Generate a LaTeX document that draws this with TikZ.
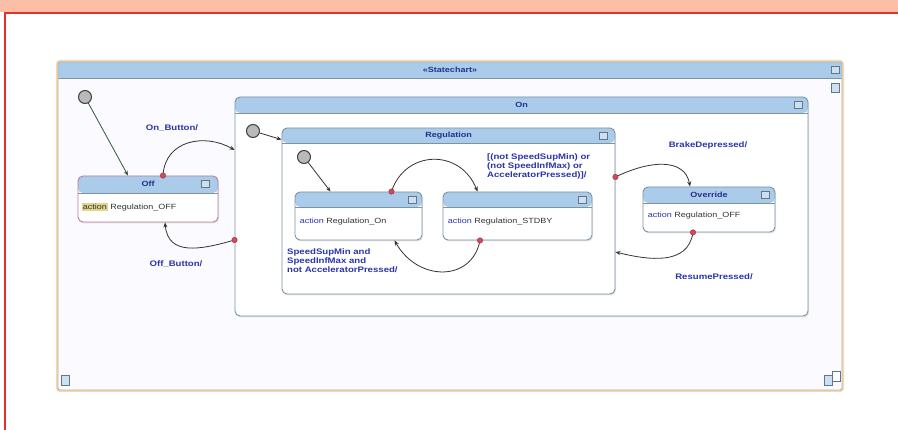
\documentclass[tikz,border=0pt]{standalone}
\usepackage{fontspec}
\setmainfont{Liberation Sans}[FakeStretch=1.2]
\usetikzlibrary{arrows.meta,shadows}

\definecolor{bandsalmon}{HTML}{FBBFA8}
\definecolor{pagered}{HTML}{E8302A}
\definecolor{headfill}{HTML}{AACCEA}
\definecolor{stateline}{HTML}{7C93A4}
\definecolor{offline}{HTML}{B88098}
\definecolor{glow}{HTML}{F4D9AE}
\definecolor{labelblue}{HTML}{2A35A8}
\definecolor{titleblue}{HTML}{23308A}
\definecolor{dotred}{HTML}{D2495A}
\definecolor{khaki}{HTML}{E2D68E}
\definecolor{initgreen}{HTML}{2F5A3A}

\begin{document}
\begin{tikzpicture}[x=1pt,y=-1pt]
\tikzset{
  state/.style={draw=stateline, line width=0.9pt, rounded corners=5pt, fill=white, inner sep=0pt,
    drop shadow={opacity=0.2, shadow xshift=1pt, shadow yshift=-1.5pt},
    path picture={
      \fill[headfill] (path picture bounding box.north west) rectangle ([yshift=-#1]path picture bounding box.north east);
      \draw[stateline, line width=0.5pt] ([yshift=-#1]path picture bounding box.north west) -- ([yshift=-#1]path picture bounding box.north east);
    }},
  state/.default=15,
  title/.style={font=\fontsize{7.5}{8}\selectfont\bfseries, text=titleblue, inner sep=0pt},
  body/.style={font=\fontsize{7.5}{9}\selectfont, text=black!80, inner sep=0pt, anchor=west},
  icon/.style={draw=stateline!80!black, fill=headfill!60, line width=0.5pt, minimum width=8pt, minimum height=7pt, inner sep=0pt},
  init/.style={circle, draw=black!75, fill=gray!55, line width=1pt, minimum size=13pt, inner sep=0pt},
  trans/.style={draw=black!80, line width=0.8pt, -{Stealth[length=5pt,width=4pt]}},
  srcdot/.style={circle, fill=dotred, draw=dotred!70!black, line width=0.4pt, inner sep=0pt, minimum size=5.5pt},
  guard/.style={font=\fontsize{8}{9}\selectfont\bfseries, text=labelblue, inner sep=0pt, align=left}
}
\useasboundingbox (0,0) rectangle (898,430);

% page
\fill[white] (0,0) rectangle (898,430);
\fill[bandsalmon] (0,0) rectangle (898,12);
\draw[pagered, line width=1.5pt] (898,13) -- (5,13) -- (5,430);

% statechart frame
\node[state=16, rounded corners=2pt, draw=gray!60, fill=blue!2, preaction={draw=glow, line width=4pt},
      minimum width=784pt, minimum height=328pt] (chart) at (450,226) {};
\node[title] (chartT) at ([yshift=-8]chart.north) {<<Statechart>>};
\node[icon] (chartI) at ([xshift=-7,yshift=-8]chart.north east) {};
\node[icon, minimum height=9pt] (chartS) at ([xshift=-7,yshift=-26]chart.north east) {};
\node[icon, minimum height=10pt] (chartBL) at ([xshift=8,yshift=10]chart.south west) {};
\node[icon, minimum height=10pt] (chartBR) at ([xshift=-14,yshift=10]chart.south east) {};
\node[icon, fill=white, minimum height=10pt] (chartBC) at ([xshift=-6,yshift=14]chart.south east) {};

% states
\node[state=17, draw=offline, minimum width=140pt, minimum height=46pt] (off) at (148,199) {};
\node[title] (offT) at ([yshift=-8.5]off.north) {Off};
\node[icon] (offI) at ([xshift=-13,yshift=-8.5]off.north east) {};
\node[body] (offB) at ([xshift=4,yshift=-8]off.west) {{\setlength\fboxsep{1pt}\colorbox{khaki}{action}} Regulation\_OFF};

\node[state=16, minimum width=573pt, minimum height=219pt] (on) at (521.5,206.5) {};
\node[title] (onT) at ([yshift=-8]on.north) {On};
\node[icon] (onI) at ([xshift=-10,yshift=-8]on.north east) {};

\node[state, minimum width=333pt, minimum height=166pt] (reg) at (448.5,211) {};
\node[title] (regT) at ([yshift=-8]reg.north) {Regulation};
\node[icon] (regI) at ([xshift=-12,yshift=-8]reg.north east) {};

\node[state, minimum width=127pt, minimum height=48pt] (regon) at (358.5,216) {};
\node[icon] (regonI) at ([xshift=-10,yshift=-8]regon.north east) {};
\node[body] (regonB) at ([xshift=5,yshift=-6]regon.west) {\textcolor{labelblue}{action} Regulation\_On};

\node[state, minimum width=149pt, minimum height=48pt] (stdby) at (517.5,216) {};
\node[icon] (stdbyI) at ([xshift=-10,yshift=-8]stdby.north east) {};
\node[body] (stdbyB) at ([xshift=5,yshift=-6]stdby.west) {\textcolor{labelblue}{action} Regulation\_STDBY};

\node[state=16, minimum width=132pt, minimum height=45pt] (ovr) at (709,209.5) {};
\node[title] (ovrT) at ([yshift=-8]ovr.north) {Override};
\node[icon] (ovrI) at ([xshift=-10,yshift=-8]ovr.north east) {};
\node[body] (ovrB) at ([xshift=5,yshift=-6.5]ovr.west) {\textcolor{labelblue}{action} Regulation\_OFF};

% initial states
\node[init] (init1) at (85,97) {};
\node[init] (init2) at (253,131) {};
\node[init] (init3) at (304,157) {};

\draw[trans, draw=initgreen] (init1) -- ([xshift=-20]off.north);
\draw[trans] (init2) -- ([yshift=-12]reg.north west);
\draw[trans] (init3) -- ([xshift=-28]regon.north);

% transitions
\draw[trans] ([xshift=15]off.north) node[srcdot] (d1) {}
  .. controls (165,140) and (205,133) .. ([yshift=56.5]on.west);
\draw[trans] ([yshift=-33.5]on.west) node[srcdot] (d2) {}
  .. controls (200,250) and (168,256) .. ([xshift=17]off.south);
\draw[trans] ([xshift=33]regon.north) node[srcdot] (d3) {}
  .. controls (405,150) and (460,148) .. ([xshift=-40]stdby.north);
\draw[trans] ([xshift=-37.5]stdby.south) node[srcdot] (d4) {}
  .. controls (472,282) and (418,282) .. ([xshift=36]regon.south);
\draw[trans] ([yshift=34]reg.east) node[srcdot] (d5) {}
  .. controls (650,160) and (685,158) .. ([xshift=-19]ovr.north);
\draw[trans] ([xshift=-16]ovr.south) node[srcdot] (d6) {}
  .. controls (688,266) and (648,260) .. ([yshift=-41]reg.east);

% guards
\node[guard] (onbtn) at (172,128) {On\_Button/};
\node[guard] (offbtn) at (176,264) {Off\_Button/};
\node[guard, anchor=west] (toStdby) at (487,166) {[(not SpeedSupMin) or\\(not SpeedInfMax) or\\AcceleratorPressed)]/};
\node[guard, anchor=north west] (toOn) at (287,249) {SpeedSupMin and\\SpeedInfMax and\\not AcceleratorPressed/};
\node[guard] (brake) at (708,145) {BrakeDepressed/};
\node[guard] (resume) at (714,277) {ResumePressed/};

\end{tikzpicture}
\end{document}
